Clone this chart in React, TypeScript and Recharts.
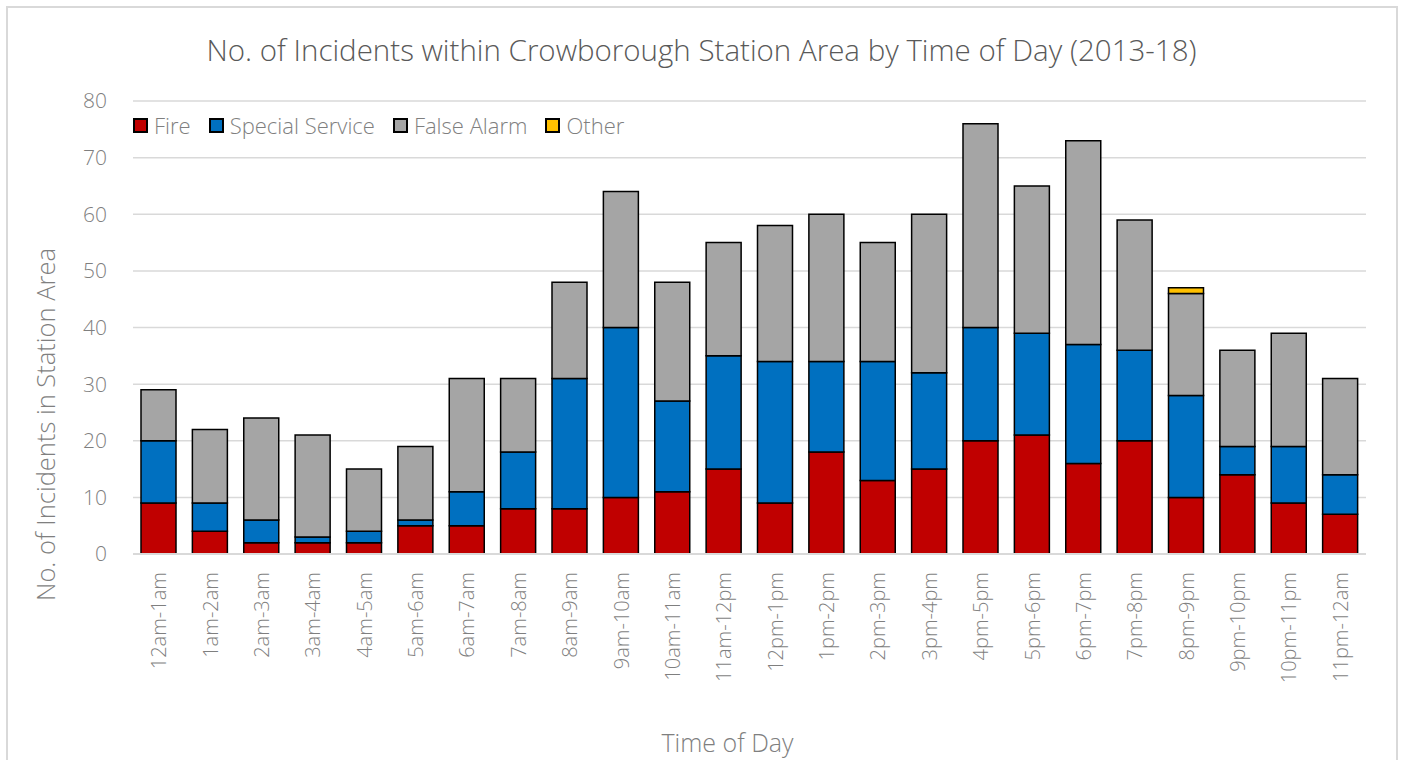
import React from 'react';
import { BarChart, Bar, XAxis, YAxis, CartesianGrid, Legend } from 'recharts';

const categories = ['12am-1am','1am-2am','2am-3am','3am-4am','4am-5am','5am-6am','6am-7am','7am-8am','8am-9am','9am-10am','10am-11am','11am-12pm','12pm-1pm','1pm-2pm','2pm-3pm','3pm-4pm','4pm-5pm','5pm-6pm','6pm-7pm','7pm-8pm','8pm-9pm','9pm-10pm','10pm-11pm','11pm-12am'];
const fire = [9,4,2,2,2,5,5,8,8,10,11,15,9,18,13,15,20,21,16,20,10,14,9,7];
const specialService = [11,5,4,1,2,1,6,10,23,30,16,20,25,16,21,17,20,18,21,16,18,5,10,7];
const falseAlarm = [9,13,18,18,11,13,20,13,17,24,21,20,24,26,21,28,36,26,36,23,18,17,20,17];
const other = [0,0,0,0,0,0,0,0,0,0,0,0,0,0,0,0,0,0,0,0,1,0,0,0];
const yTicks = [0,10,20,30,40,50,60,70,80];

const seriesInfo = [
  { key: 'fire', name: 'Fire', color: '#C00000' },
  { key: 'ss', name: 'Special Service', color: '#0070C0' },
  { key: 'fa', name: 'False Alarm', color: '#A5A5A5' },
  { key: 'other', name: 'Other', color: '#FFC000' },
];

const data = categories.map((c, i) => ({
  cat: c,
  fire: fire[i],
  ss: specialService[i],
  fa: falseAlarm[i],
  other: other[i],
}));

const FONT = '"Open Sans", "Segoe UI", sans-serif';
const GREY = '#7f7f7f';

const XTick = (props: any) => {
  const { x, y, payload } = props;
  return (
    <text x={x} y={y} transform={`rotate(-90 ${x} ${y})`} textAnchor="end" dominantBaseline="central"
      fill={GREY} fontSize={20} fontFamily={FONT} fontWeight={300}>
      {payload.value}
    </text>
  );
};

const YLabel = (props: any) => {
  const vb = props.viewBox || { x: 0, y: 0, width: 0, height: 0 };
  const cx = vb.x + 45;
  const cy = vb.y + vb.height / 2 + 97;
  return (
    <text x={cx} y={cy} transform={`rotate(-90 ${cx} ${cy})`} textAnchor="middle" dominantBaseline="central"
      fill={GREY} fontSize={25.5} fontFamily={FONT} fontWeight={300}>
      No. of Incidents in Station Area
    </text>
  );
};

const LegendContent = () => (
  <div style={{ display: 'flex', alignItems: 'center', fontFamily: FONT, fontWeight: 300, fontSize: 22, color: GREY, whiteSpace: 'nowrap' }}>
    {seriesInfo.map((s) => (
      <div key={s.key} style={{ display: 'flex', alignItems: 'center', marginRight: 18 }}>
        <span style={{ display: 'inline-block', width: 11, height: 11, background: s.color, border: '2px solid #000', marginRight: 6 }} />
        <span>{s.name}</span>
      </div>
    ))}
  </div>
);

export default function App() {
  return (
    <div style={{ position: 'absolute', left: 0, top: 0, width: 1403, height: 760, background: '#fff', overflow: 'hidden' }}>
      <div style={{ position: 'absolute', left: 6, top: 6, width: 1388, height: 780, border: '2px solid #d9d9d9' }} />
      <div style={{ position: 'absolute', left: 0, top: 29, width: 1403, textAlign: 'center', fontFamily: FONT, fontWeight: 300, fontSize: 29.5, color: '#595959' }}>
        No. of Incidents within Crowborough Station Area by Time of Day (2013-18)
      </div>
      <div style={{ position: 'absolute', left: 0, top: 0 }}>
        <BarChart width={1403} height={760} data={data} margin={{ top: 101, right: 37, bottom: 0, left: 0 }} barSize={35}>
          <CartesianGrid vertical={false} stroke="#d9d9d9" strokeWidth={1.5} />
          <XAxis dataKey="cat" height={206} interval={0} tick={<XTick />} tickSize={0} tickMargin={18}
            axisLine={{ stroke: '#d9d9d9', strokeWidth: 2 }} tickLine={false}
            label={{ value: 'Time of Day', position: 'insideBottom', offset: 8, dx: -22, fill: GREY, fontSize: 25, fontFamily: FONT, fontWeight: 300 }} />
          <YAxis width={133} domain={[0, 80]} ticks={yTicks} axisLine={false} tickLine={false} tickSize={0} tickMargin={26}
            tick={{ fill: GREY, fontSize: 21, fontFamily: FONT, fontWeight: 300 }}
            label={<YLabel />} />
          <Legend verticalAlign="top" align="left" content={<LegendContent />} wrapperStyle={{ position: 'absolute', top: 110, left: 133, width: 'auto', height: 0 }} />
          {seriesInfo.map((s) => (
            <Bar key={s.key} dataKey={s.key} name={s.name} stackId="a" fill={s.color} stroke="#000" strokeWidth={1.5} isAnimationActive={false} />
          ))}
        </BarChart>
      </div>
    </div>
  );
}
